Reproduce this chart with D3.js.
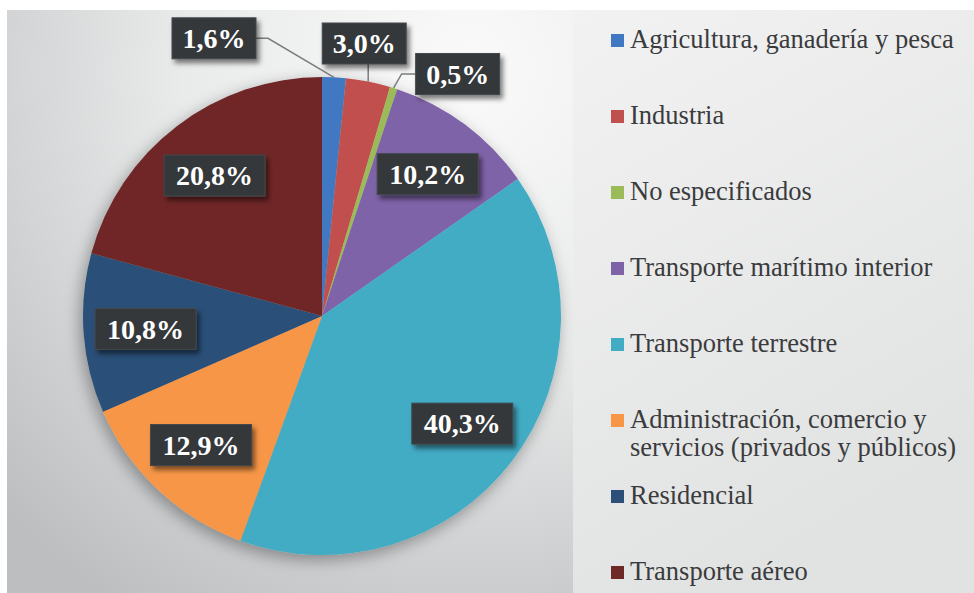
<!DOCTYPE html>
<html>
<head>
<meta charset="utf-8">
<script src="https://cdn.jsdelivr.net/npm/d3@7"></script>
<style>
  html, body { margin: 0; padding: 0; background: #fff; }
  svg { display: block; }
</style>
</head>
<body>
<svg id="chart" width="974" height="593"></svg>
<script>
const categories = [
  "Agricultura, ganadería y pesca",
  "Industria",
  "No especificados",
  "Transporte marítimo interior",
  "Transporte terrestre",
  "Administración, comercio y servicios (privados y públicos)",
  "Residencial",
  "Transporte aéreo"
];
const values = [1.6, 3.0, 0.5, 10.2, 40.3, 12.9, 10.8, 20.8];
const valueLabels = ["1,6%", "3,0%", "0,5%", "10,2%", "40,3%", "12,9%", "10,8%", "20,8%"];
// legend lines (the long category wraps on two lines)
const legendLines = [
  ["Agricultura, ganadería y pesca"],
  ["Industria"],
  ["No especificados"],
  ["Transporte marítimo interior"],
  ["Transporte terrestre"],
  ["Administración, comercio y", "servicios (privados y públicos)"],
  ["Residencial"],
  ["Transporte aéreo"]
];
const colors = ["#4079c2", "#c0504d", "#9bbb59", "#7f63a8", "#43acc5", "#f79646", "#2b4f78", "#6f2828"];

// small slices get their labels pulled out with a leader line (offset from the arc edge)
const outerOffsets = {0: [-120, -39], 1: [-4, -38], 2: [64, -14]};

const W = 974, H = 593;
const cx = 322, cy = 316, R = 239;

const svg = d3.select("#chart");
const defs = svg.append("defs");

const bg = defs.append("radialGradient").attr("id", "bgGrad")
  .attr("gradientUnits", "userSpaceOnUse")
  .attr("cx", 470).attr("cy", 70).attr("r", 640);
bg.append("stop").attr("offset", "0%").attr("stop-color", "#fafafa");
bg.append("stop").attr("offset", "45%").attr("stop-color", "#e9eaea");
bg.append("stop").attr("offset", "100%").attr("stop-color", "#bcbec0");

const lg = defs.append("linearGradient").attr("id", "legGrad")
  .attr("x1", 0).attr("y1", 0).attr("x2", 0.4).attr("y2", 1);
lg.append("stop").attr("offset", "0%").attr("stop-color", "#f2f2f2");
lg.append("stop").attr("offset", "100%").attr("stop-color", "#e1e2e2");

const pieShadow = defs.append("filter").attr("id", "pieShadow")
  .attr("x", "-20%").attr("y", "-20%").attr("width", "140%").attr("height", "140%");
pieShadow.append("feDropShadow").attr("dx", -3).attr("dy", 5)
  .attr("stdDeviation", 8).attr("flood-color", "#000").attr("flood-opacity", 0.35);

const boxShadow = defs.append("filter").attr("id", "boxShadow")
  .attr("x", "-20%").attr("y", "-30%").attr("width", "150%").attr("height", "170%");
boxShadow.append("feDropShadow").attr("dx", 3).attr("dy", 4)
  .attr("stdDeviation", 2.5).attr("flood-color", "#000").attr("flood-opacity", 0.5);

// panels
svg.append("rect").attr("x", 7).attr("y", 10).attr("width", W - 7).attr("height", H - 10)
  .attr("fill", "url(#bgGrad)");
svg.append("rect").attr("x", 573).attr("y", 10).attr("width", W - 573).attr("height", H - 10)
  .attr("fill", "url(#legGrad)");

// pie
const pie = d3.pie().sort(null).value(d => d);
const arcs = pie(values);
const arc = d3.arc().innerRadius(0).outerRadius(R);

const g = svg.append("g").attr("transform", `translate(${cx},${cy})`);

g.append("g").attr("filter", "url(#pieShadow)")
  .selectAll("path")
  .data(arcs)
  .enter()
  .append("path")
  .attr("d", arc)
  .attr("fill", (d, i) => colors[i]);

// labels
const labelArc = d3.arc().innerRadius(R * 0.74).outerRadius(R * 0.74);
const edgeArc = d3.arc().innerRadius(R).outerRadius(R);

const boxH = 41;
const labels = g.append("g");

arcs.forEach((d, i) => {
  const txt = valueLabels[i];
  const boxW = txt.length > 4 ? 101 : 84;
  let lx, ly;
  if (outerOffsets[i]) {
    const [ax, ay] = edgeArc.centroid(d);
    lx = ax + outerOffsets[i][0];
    ly = ay + outerOffsets[i][1];
    const left = lx - boxW / 2, right = lx + boxW / 2;
    let pts;
    if (ax >= left && ax <= right) {
      pts = [[ax, ay], [ax, ly + boxH / 2]];
    } else if (ax > right) {
      pts = [[ax, ay], [right + 12, ly], [right, ly]];
    } else {
      pts = [[ax, ay], [left - 14, ly], [left, ly]];
    }
    labels.append("path")
      .attr("d", d3.line()(pts))
      .attr("fill", "none")
      .attr("stroke", "#7a7c7e")
      .attr("stroke-width", 1.5);
  } else {
    [lx, ly] = labelArc.centroid(d);
  }
  const lab = labels.append("g").attr("transform", `translate(${lx},${ly})`);
  lab.append("rect")
    .attr("x", -boxW / 2).attr("y", -boxH / 2)
    .attr("width", boxW).attr("height", boxH)
    .attr("fill", "#34383b")
    .attr("stroke", "#45494c")
    .attr("stroke-width", 1)
    .attr("filter", "url(#boxShadow)");
  lab.append("text")
    .attr("text-anchor", "middle")
    .attr("dy", "0.35em")
    .attr("font-family", "'Liberation Serif', serif")
    .attr("font-weight", "bold")
    .attr("font-size", 28)
    .attr("fill", "#ffffff")
    .text(txt);
});

// legend
const legendY = d3.scaleLinear().domain([0, categories.length - 1]).range([48, 580]);
const legend = svg.append("g");
categories.forEach((c, i) => {
  const y = legendY(i);
  legend.append("rect")
    .attr("x", 611).attr("y", y - 14)
    .attr("width", 13).attr("height", 13)
    .attr("fill", colors[i]);
  const t = legend.append("text")
    .attr("x", 630).attr("y", y)
    .attr("font-family", "'Liberation Serif', serif")
    .attr("font-size", 26.5)
    .attr("fill", "#3a3b3d");
  legendLines[i].forEach((line, j) => {
    t.append("tspan").attr("x", 630).attr("y", y + j * 28).text(line);
  });
});
</script>
</body>
</html>
